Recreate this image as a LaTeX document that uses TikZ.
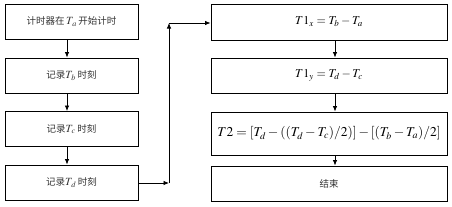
\documentclass[tikz,border=0pt]{standalone}
\usepackage{mathptmx}
\usepackage{fontspec}
\setmainfont{Liberation Serif}
\newfontfamily\cjk{Noto Sans CJK SC}
\usetikzlibrary{arrows.meta}
\newcommand{\Tm}[1]{$\mathit{T}_{#1}$}
\begin{document}
\begin{tikzpicture}[x=1pt,y=-1pt,
  box/.style={draw,line width=0.9pt,minimum height=35pt,inner sep=0pt},
  lbox/.style={box,minimum width=133pt},
  rbox/.style={box,minimum width=236pt},
  arr/.style={-{Latex[length=5.5pt,width=4.5pt]},line width=0.8pt},
  lbl/.style={font=\fontsize{9.5}{12}\selectfont,text=black!80},
  mlbl/.style={font=\fontsize{12}{14}\selectfont}]
\useasboundingbox (0,0) rectangle (452,206);
\node[lbox,lbl] (a) at (71.5,21.5) {\cjk 计时器在\,{\fontsize{11}{12}\selectfont\Tm{a}}\,开始计时};
\node[lbox,lbl] (b) at (71.5,75.5) {\cjk 记录{\fontsize{11}{12}\selectfont\Tm{b}}\,时刻};
\node[lbox,lbl] (c) at (71.5,129) {\cjk 记录{\fontsize{11}{12}\selectfont\Tm{c}}\,时刻};
\node[lbox,lbl] (d) at (71.5,182.5) {\cjk 记录{\fontsize{11}{12}\selectfont\Tm{d}}\,时刻};
\node[rbox,mlbl,minimum height=36pt] (e) at (329,22) {$T1_x=T_b-T_a$};
\node[rbox,mlbl] (f) at (329,75.5) {$T1_y=T_d-T_c$};
\node[rbox,minimum height=43pt,font=\fontsize{13.5}{15}\selectfont] (g) at (329,133.5) {$T2=[T_d-((T_d-T_c)/2)]-[(T_b-T_a)/2]$};
\node[rbox,lbl] (h) at (329,183.5) {\cjk 结束};
\coordinate (p1) at (169,183);
\coordinate (p2) at (169,23);
\draw[arr] (a.south -| 67,0) -- (b.north -| 67,0);
\draw[arr] (b.south -| 67,0) -- (c.north -| 67,0);
\draw[arr] (c.south -| 67,0) -- (d.north -| 67,0);
\draw[arr] (d.east |- p1) -- (p1);
\draw[arr] (p1) -- (p2);
\draw[arr] (p2) -- (e.west |- p2);
\draw[arr] (e.south -| 335,0) -- (f.north -| 335,0);
\draw[arr] (f.south -| 335,0) -- (g.north -| 335,0);
\draw[arr] (g.south -| 335,0) -- (h.north -| 335,0);
\end{tikzpicture}
\end{document}
